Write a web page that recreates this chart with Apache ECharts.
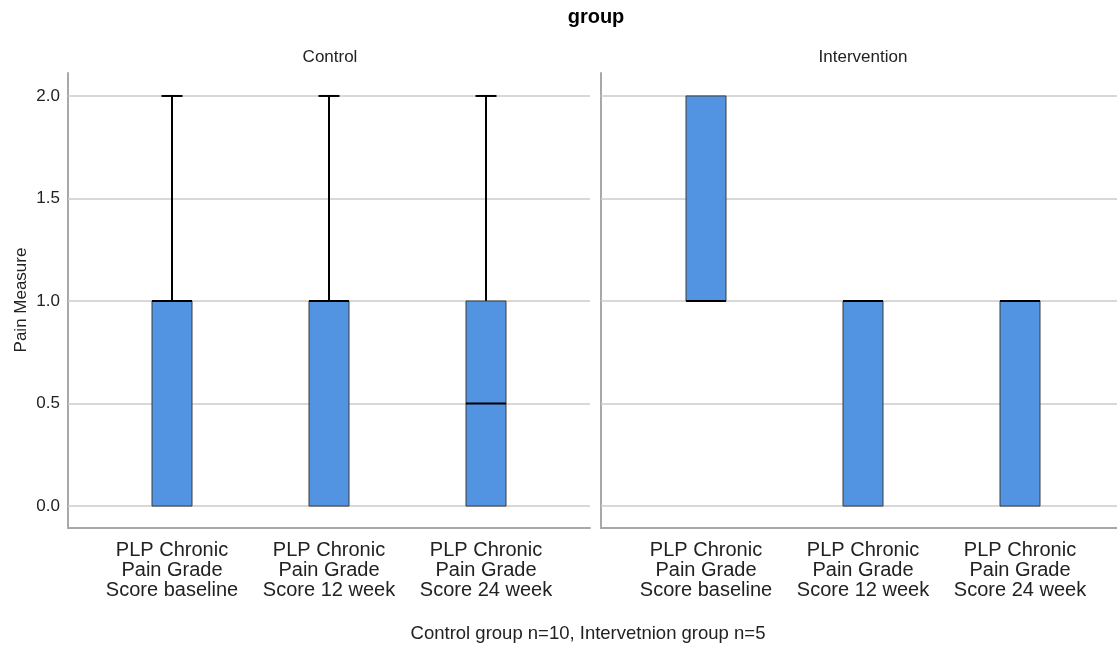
<!DOCTYPE html>
<html>
<head>
<meta charset="utf-8">
<script src="https://cdn.jsdelivr.net/npm/echarts@6/dist/echarts.min.js"></script>
<style>
  html, body { margin: 0; padding: 0; background: #ffffff; }
  #chart { width: 1117px; height: 647px; }
</style>
</head>
<body>
<div id="chart"></div>
<script>
// Measures shown on the x axis of each panel
const categories = [
  'PLP Chronic\nPain Grade\nScore baseline',
  'PLP Chronic\nPain Grade\nScore 12 week',
  'PLP Chronic\nPain Grade\nScore 24 week'
];
// Five-number summaries per measure: [min, Q1, median, Q3, max]
const controlStats = [
  [0, 0, 1, 1, 2],
  [0, 0, 1, 1, 2],
  [0, 0, 0.5, 1, 2]
];
const interventionStats = [
  [1, 1, 1, 2, 2],
  [0, 0, 1, 1, 1],
  [0, 0, 1, 1, 1]
];
// Panel names and value ticks
const panelNames = ['Control', 'Intervention'];
const yTickValues = [0, 0.5, 1, 1.5, 2];
const yMin = -0.107;
const yMax = 2.112;

const FONT = '"Liberation Sans", Arial, sans-serif';
const TEXT = '#222222';
const AXIS = '#a8a8a8';
const GRIDLINE = '#cbcbcb';
const BOX_FILL = '#5294e2';
const BOX_HALF = 20;
const CAP_HALF = 10.5;

const chart = echarts.init(document.getElementById('chart'), null, { renderer: 'canvas' });

function tickLabel(v) {
  return yTickValues.some(t => Math.abs(t - v) < 1e-6) ? v.toFixed(1) : '';
}

function renderBox(params, api) {
  const idx = api.value(0);
  const mn = api.value(1), q1 = api.value(2), md = api.value(3), q3 = api.value(4), mx = api.value(5);
  const cx = api.coord([idx, md])[0];
  const y = v => api.coord([idx, v])[1];
  const black = { stroke: '#000000', lineWidth: 2 };
  const children = [];
  if (mx > q3) {
    children.push({ type: 'line', shape: { x1: cx, y1: y(q3), x2: cx, y2: y(mx) }, style: black });
    children.push({ type: 'line', shape: { x1: cx - CAP_HALF, y1: y(mx), x2: cx + CAP_HALF, y2: y(mx) }, style: black });
  }
  if (mn < q1) {
    children.push({ type: 'line', shape: { x1: cx, y1: y(q1), x2: cx, y2: y(mn) }, style: black });
    children.push({ type: 'line', shape: { x1: cx - CAP_HALF, y1: y(mn), x2: cx + CAP_HALF, y2: y(mn) }, style: black });
  }
  children.push({
    type: 'rect',
    shape: { x: cx - BOX_HALF, y: y(q3), width: BOX_HALF * 2, height: y(q1) - y(q3) },
    style: { fill: BOX_FILL, stroke: '#3a3a3a', lineWidth: 1 }
  });
  children.push({ type: 'line', shape: { x1: cx - BOX_HALF, y1: y(md), x2: cx + BOX_HALF, y2: y(md) }, style: black });
  return { type: 'group', children };
}

function boxData(stats) {
  return stats.map((s, i) => [i].concat(s));
}

// Two grids per panel: a frame grid carrying the axis lines and gridlines,
// and a category grid carrying the boxes and their labels.
const frames = [
  { left: 68, top: 73, width: 522, height: 455 },
  { left: 601, top: 73, width: 516, height: 455 }
];
const boxGrids = [
  { left: 93.5, top: 73, width: 471, height: 455 },
  { left: 627.5, top: 73, width: 471, height: 455 }
];

const grid = [frames[0], boxGrids[0], frames[1], boxGrids[1]];
const xAxis = [];
const yAxis = [];
const series = [];

[0, 1].forEach(p => {
  const fg = p * 2, bg = p * 2 + 1;
  xAxis.push({
    gridIndex: fg, type: 'value', min: 0, max: 1,
    axisLine: { show: true, onZero: false, lineStyle: { color: AXIS, width: 2 } },
    axisTick: { show: false }, axisLabel: { show: false }, splitLine: { show: false }
  });
  xAxis.push({
    gridIndex: bg, type: 'category', data: categories,
    axisLine: { show: false }, axisTick: { show: false }, splitLine: { show: false },
    axisLabel: { color: TEXT, fontFamily: FONT, fontSize: 20, lineHeight: 20, margin: 12, interval: 0 }
  });
  yAxis.push({
    gridIndex: fg, type: 'value', min: yMin, max: yMax,
    axisLine: { show: true, onZero: false, lineStyle: { color: AXIS, width: 2 } },
    axisTick: { show: false }, splitLine: { show: false },
    axisLabel: { show: p === 0, color: TEXT, fontFamily: FONT, fontSize: 17, margin: 8, formatter: tickLabel }
  });
  yAxis.push({ gridIndex: bg, type: 'value', min: yMin, max: yMax, show: false, splitLine: { show: false } });

  series.push({
    type: 'line', xAxisIndex: fg, yAxisIndex: fg, data: [], silent: true, z: 1,
    markLine: {
      silent: true, symbol: 'none', animation: false,
      label: { show: false },
      lineStyle: { color: GRIDLINE, width: 1.5, type: 'solid' },
      data: yTickValues.map(v => ({ yAxis: v }))
    }
  });
  series.push({
    type: 'custom', xAxisIndex: bg, yAxisIndex: bg, z: 5, clip: false,
    renderItem: renderBox,
    encode: { x: 0, y: [1, 2, 3, 4, 5] },
    data: boxData(p === 0 ? controlStats : interventionStats)
  });
});

const option = {
  animation: false,
  backgroundColor: '#ffffff',
  grid, xAxis, yAxis, series,
  graphic: [
    { type: 'text', x: 596, y: 17, style: { text: 'group', fill: '#000', font: 'bold 20px ' + FONT, align: 'center', verticalAlign: 'middle' } },
    { type: 'text', x: 330, y: 57, style: { text: panelNames[0], fill: TEXT, font: '17px ' + FONT, align: 'center', verticalAlign: 'middle' } },
    { type: 'text', x: 863, y: 57, style: { text: panelNames[1], fill: TEXT, font: '17px ' + FONT, align: 'center', verticalAlign: 'middle' } },
    { type: 'text', x: 21, y: 300, rotation: Math.PI / 2, style: { text: 'Pain Measure', fill: TEXT, font: '17px ' + FONT, align: 'center', verticalAlign: 'middle' } },
    { type: 'text', x: 588, y: 634, style: { text: 'Control group n=10, Intervetnion group n=5', fill: TEXT, font: '18.5px ' + FONT, align: 'center', verticalAlign: 'middle' } }
  ]
};

chart.setOption(option);
</script>
</body>
</html>
